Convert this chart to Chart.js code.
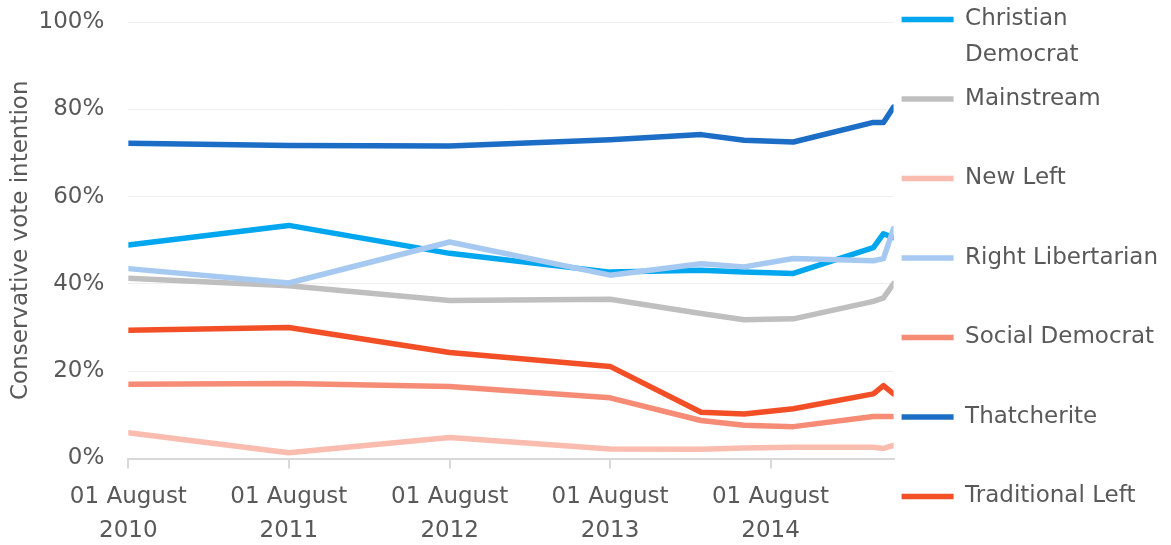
<!DOCTYPE html>
<html>
<head>
<meta charset="utf-8">
<script src="https://cdn.jsdelivr.net/npm/chart.js@4/dist/chart.umd.min.js"></script>
<style>
html,body{margin:0;padding:0;background:#ffffff;}
#c{display:block;}
</style>
</head>
<body>
<canvas id="c" width="1171" height="545"></canvas>
<script>
// ---- Data ----
const pollDates = ['2010-08-01','2011-08-01','2012-08-01','2013-08-01','2014-02-24','2014-06-02','2014-09-22','2015-03-23','2015-04-15','2015-05-08'];
const seriesNames = ['Christian Democrat','Mainstream','New Left','Right Libertarian','Social Democrat','Thatcherite','Traditional Left'];
const legendLabels = [['Christian','Democrat'],['Mainstream',''],['New Left',''],['Right Libertarian',''],['Social Democrat',''],['Thatcherite',''],'Traditional Left'];
const christianDemocrat = [48.9, 53.4, 47.0, 42.7, 43.1, 42.7, 42.4, 48.3, 51.5, 50.6];
const mainstream        = [41.3, 39.6, 36.2, 36.5, 33.2, 31.8, 32.0, 36.0, 36.8, 40.1];
const newLeft           = [5.9, 1.3, 4.8, 2.2, 2.1, 2.4, 2.6, 2.6, 2.3, 3.0];
const rightLibertarian  = [43.5, 40.2, 49.6, 42.0, 44.6, 43.9, 45.8, 45.3, 45.8, 52.7];
const socialDemocrat    = [17.0, 17.2, 16.5, 13.9, 8.7, 7.6, 7.3, 9.6, 9.6, 9.6];
const thatcherite       = [72.2, 71.7, 71.6, 73.0, 74.2, 72.9, 72.5, 77.0, 77.0, 80.5];
const traditionalLeft   = [29.4, 30.0, 24.3, 21.1, 10.6, 10.2, 11.4, 14.8, 16.7, 14.8];
const xTickDates = ['2010-08-01','2011-08-01','2012-08-01','2013-08-01','2014-08-01'];
const xTickLabels = [['01 August','2010'],['01 August','2011'],['01 August','2012'],['01 August','2013'],['01 August','2014']];
const yTicks = [0, 20, 40, 60, 80, 100];

// ---- Styles ----
const seriesValues = [christianDemocrat, mainstream, newLeft, rightLibertarian, socialDemocrat, thatcherite, traditionalLeft];
const colors = ['#00a7ee','#bfbfbf','#fabcae','#a6c9f2','#f68c76','#1c6dc6','#f24f27'];
const FONT = "'DejaVu Sans', sans-serif";
const TXT = '#595959';

const datasets = seriesNames.map((name, i) => ({
  label: name,
  data: pollDates.map((d, j) => ({ x: Date.parse(d), y: seriesValues[i][j] })),
  borderColor: colors[i],
  backgroundColor: colors[i],
  borderWidth: 5.5,
  pointRadius: 0,
  pointHoverRadius: 0,
  tension: 0,
  borderCapStyle: 'round',
  borderJoinStyle: 'round',
  fill: false,
  order: seriesNames.length - i
}));

new Chart(document.getElementById('c'), {
  type: 'line',
  data: { datasets },
  options: {
    responsive: false,
    animation: false,
    devicePixelRatio: 1,
    layout: { padding: { top: 0, right: 3, bottom: -14.5, left: 0 } },
    plugins: {
      tooltip: { enabled: false },
      legend: {
        position: 'right',
        align: 'start',
        labels: {
          usePointStyle: true,
          pointStyle: 'line',
          pointStyleWidth: 52,
          padding: 8,
          color: TXT,
          font: { family: FONT, size: 23, lineHeight: '35.75px' },
          sort: (a, b) => a.datasetIndex - b.datasetIndex,
          generateLabels: (chart) => {
            const items = Chart.defaults.plugins.legend.labels.generateLabels(chart);
            items.forEach(it => { it.text = legendLabels[it.datasetIndex]; });
            return items;
          }
        }
      }
    },
    scales: {
      x: {
        type: 'linear',
        min: Date.parse(pollDates[0]),
        max: Date.parse(pollDates[pollDates.length - 1]),
        afterBuildTicks: (scale) => { scale.ticks = xTickDates.map(d => ({ value: Date.parse(d) })); },
        ticks: {
          autoSkip: false,
          maxRotation: 0,
          padding: 11.5,
          color: TXT,
          font: { family: FONT, size: 23, lineHeight: '34px' },
          callback: (v, i) => xTickLabels[i]
        },
        grid: { drawOnChartArea: false, drawTicks: true, tickLength: 10, color: '#d9d9d9', lineWidth: 2 },
        border: { display: true, color: '#d9d9d9', width: 2 }
      },
      y: {
        min: 0,
        max: 100,
        afterBuildTicks: (scale) => { scale.ticks = yTicks.map(v => ({ value: v })); },
        ticks: {
          padding: 0,
          color: TXT,
          font: { family: FONT, size: 23, lineHeight: '44px' },
          callback: (v) => v + '%'
        },
        grid: { color: '#efefef', lineWidth: 1, drawTicks: true, tickLength: 24, tickColor: 'rgba(0,0,0,0)' },
        border: { display: false },
        title: {
          display: true,
          text: 'Conservative vote intention',
          color: TXT,
          font: { family: FONT, size: 23 },
          padding: { top: 7, bottom: 4 }
        }
      }
    }
  }
});
</script>
</body>
</html>
